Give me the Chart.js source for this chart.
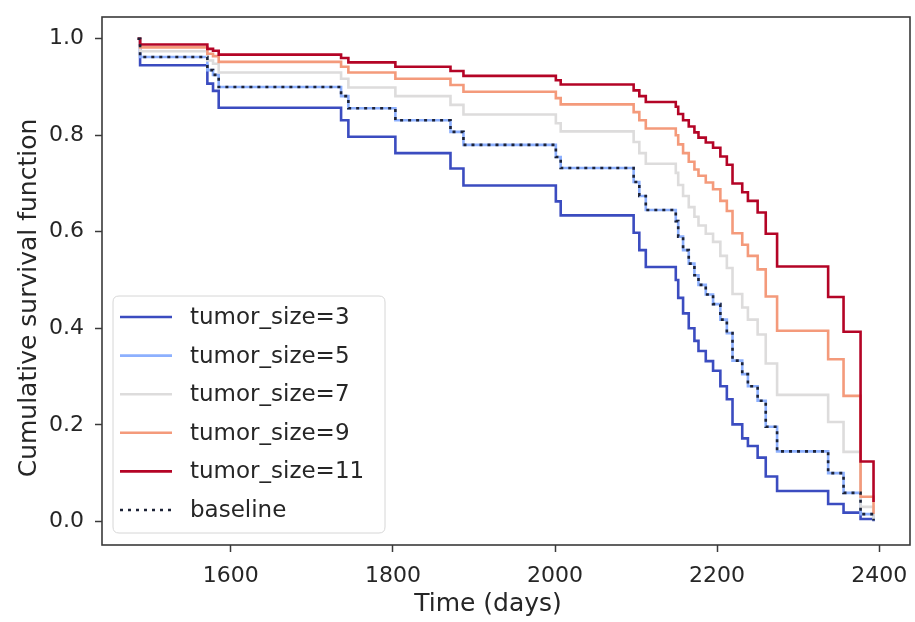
<!DOCTYPE html>
<html><head><meta charset="utf-8">
<script src="https://cdn.jsdelivr.net/npm/chart.js@4.4.1/dist/chart.umd.min.js"></script>
<style>html,body{margin:0;padding:0;background:#fff;} canvas{display:block;}</style>
</head><body>
<canvas id="c" width="915" height="622"></canvas>
<script>
// ---- data ----
const days = [1485, 1488, 1571, 1578, 1585, 1736, 1745, 1803, 1871, 1887, 2001, 2007, 2097, 2104, 2112,
  2149, 2152, 2158, 2165, 2172, 2177, 2186, 2195, 2204, 2212, 2219, 2231, 2238, 2250, 2260, 2274,
  2337, 2356, 2377, 2393];
const survSize3 = [1.0, 0.945, 0.907, 0.892, 0.857, 0.831, 0.797, 0.763, 0.731, 0.696, 0.663, 0.634, 0.598, 0.562, 0.527,
  0.500, 0.463, 0.431, 0.400, 0.374, 0.353, 0.332, 0.312, 0.280, 0.253, 0.201, 0.172, 0.156, 0.132, 0.093, 0.063,
  0.036, 0.018, 0.005, 0.0];
const survSize5 = [1.0, 0.962, 0.935, 0.925, 0.900, 0.881, 0.856, 0.831, 0.807, 0.780, 0.755, 0.732, 0.703, 0.674, 0.645,
  0.622, 0.590, 0.562, 0.534, 0.510, 0.490, 0.470, 0.450, 0.418, 0.390, 0.333, 0.305, 0.280, 0.250, 0.196, 0.145,
  0.100, 0.059, 0.015, 0.002];
const survSize7 = [1.0, 0.974, 0.955, 0.948, 0.930, 0.917, 0.899, 0.881, 0.863, 0.843, 0.825, 0.808, 0.786, 0.763, 0.741,
  0.722, 0.697, 0.674, 0.651, 0.631, 0.613, 0.596, 0.579, 0.550, 0.525, 0.471, 0.443, 0.418, 0.387, 0.327, 0.262,
  0.206, 0.144, 0.030, 0.004];
const survSize9 = [1.0, 0.982, 0.969, 0.964, 0.952, 0.942, 0.930, 0.917, 0.904, 0.890, 0.877, 0.864, 0.848, 0.831, 0.814,
  0.800, 0.781, 0.763, 0.745, 0.729, 0.716, 0.702, 0.688, 0.664, 0.643, 0.597, 0.573, 0.550, 0.522, 0.466, 0.395,
  0.336, 0.260, 0.051, 0.015];
const survSize11 = [1.0, 0.988, 0.979, 0.975, 0.967, 0.960, 0.951, 0.942, 0.933, 0.923, 0.914, 0.905, 0.893, 0.881, 0.869,
  0.859, 0.844, 0.831, 0.818, 0.806, 0.795, 0.785, 0.774, 0.756, 0.739, 0.700, 0.682, 0.664, 0.640, 0.596, 0.528,
  0.465, 0.393, 0.124, 0.040];
const survBaseline = [1.0, 0.962, 0.935, 0.925, 0.900, 0.881, 0.856, 0.831, 0.807, 0.780, 0.755, 0.732, 0.703, 0.674, 0.645,
  0.622, 0.590, 0.562, 0.534, 0.510, 0.490, 0.470, 0.450, 0.418, 0.390, 0.333, 0.305, 0.280, 0.250, 0.196, 0.145,
  0.100, 0.059, 0.015, 0.002];
const seriesLabels = ['tumor_size=3', 'tumor_size=5', 'tumor_size=7', 'tumor_size=9', 'tumor_size=11', 'baseline'];
const xTicks = [1600, 1800, 2000, 2200, 2400];
const yTicks = [0.0, 0.2, 0.4, 0.6, 0.8, 1.0];
const xTitle = 'Time (days)';
const yTitle = 'Cumulative survival function';

// ---- chart ----
Chart.defaults.font.family = "'DejaVu Sans', sans-serif";
Chart.defaults.color = '#262626';
const pts = vals => days.map((d, i) => ({x: d, y: vals[i]}));

const series = [
  {vals: survSize3, color: '#3b4cc0', order: 5},
  {vals: survSize5, color: '#8db0fe', order: 4},
  {vals: survSize7, color: '#dddcdc', order: 3},
  {vals: survSize9, color: '#f49a7b', order: 2},
  {vals: survSize11, color: '#b40426', order: 1},
  {vals: survBaseline, color: '#1c2236', order: 0, dash: [3, 5]}
];

const framePlugin = {
  id: 'frame',
  afterDatasetsDraw(chart) {
    const {ctx, chartArea: a} = chart;
    ctx.save();
    ctx.strokeStyle = '#3a3a3a';
    ctx.lineWidth = 1.6;
    ctx.strokeRect(a.left, a.top, a.right - a.left, a.bottom - a.top);
    ctx.restore();
  }
};

const titlePlugin = {
  id: 'axisTitles',
  afterDraw(chart) {
    const ctx = chart.ctx;
    ctx.save();
    ctx.fillStyle = '#262626';
    ctx.font = "25px 'DejaVu Sans', sans-serif";
    ctx.textAlign = 'center';
    ctx.textBaseline = 'middle';
    ctx.fillText(xTitle, 488, 604);
    ctx.translate(29, 298);
    ctx.rotate(-Math.PI / 2);
    ctx.fillText(yTitle, 0, 0);
    ctx.restore();
  }
};

const legendPlugin = {
  id: 'innerLegend',
  afterDraw(chart) {
    const {ctx, chartArea: a} = chart;
    const x = a.left + 11, w = 272, h = 237, y = a.bottom - 12 - h, r = 6;
    ctx.save();
    ctx.beginPath();
    ctx.moveTo(x + r, y);
    ctx.lineTo(x + w - r, y); ctx.quadraticCurveTo(x + w, y, x + w, y + r);
    ctx.lineTo(x + w, y + h - r); ctx.quadraticCurveTo(x + w, y + h, x + w - r, y + h);
    ctx.lineTo(x + r, y + h); ctx.quadraticCurveTo(x, y + h, x, y + h - r);
    ctx.lineTo(x, y + r); ctx.quadraticCurveTo(x, y, x + r, y);
    ctx.closePath();
    ctx.fillStyle = 'rgba(255,255,255,0.85)';
    ctx.fill();
    ctx.strokeStyle = '#d6d6d6';
    ctx.lineWidth = 1;
    ctx.stroke();
    ctx.font = "23px 'DejaVu Sans', sans-serif";
    ctx.textBaseline = 'middle';
    ctx.textAlign = 'left';
    chart.data.datasets.forEach((ds, i) => {
      const ry = y + 21 + i * 38.6;
      ctx.beginPath();
      ctx.setLineDash(ds.borderDash || []);
      ctx.strokeStyle = ds.borderColor;
      ctx.lineWidth = ds.borderWidth;
      ctx.moveTo(x + 7, ry);
      ctx.lineTo(x + 59, ry);
      ctx.stroke();
      ctx.setLineDash([]);
      ctx.fillStyle = '#262626';
      ctx.fillText(ds.label, x + 77, ry + 1);
    });
    ctx.restore();
  }
};

new Chart(document.getElementById('c'), {
  type: 'line',
  data: {
    datasets: series.map((s, i) => ({
      label: seriesLabels[i],
      data: pts(s.vals),
      borderColor: s.color,
      backgroundColor: s.color,
      borderWidth: 2.6,
      borderDash: s.dash || [],
      borderCapStyle: 'butt',
      stepped: 'before',
      pointRadius: 0,
      fill: false,
      order: s.order
    }))
  },
  options: {
    responsive: false,
    animation: false,
    devicePixelRatio: 1,
    layout: {padding: {top: 17, right: 5, left: 0, bottom: 0}},
    plugins: {legend: {display: false}, tooltip: {enabled: false}},
    scales: {
      x: {
        type: 'linear', min: 1441, max: 2438,
        afterBuildTicks: s => { s.ticks = xTicks.map(v => ({value: v})); },
        afterFit: s => { s.height = 77; s.paddingLeft = 0; s.paddingRight = 0; },
        ticks: {font: {size: 22}, padding: 11, maxRotation: 0, autoSkip: false, callback: v => String(v)},
        grid: {drawOnChartArea: false, drawTicks: true, tickLength: 7, tickColor: '#3a3a3a', tickWidth: 1.5},
        border: {display: false},
        title: {display: false}
      },
      y: {
        type: 'linear', min: -0.049, max: 1.045,
        afterBuildTicks: s => { s.ticks = yTicks.map(v => ({value: v})); },
        afterFit: s => { s.width = 102; s.paddingTop = 0; s.paddingBottom = 0; },
        ticks: {font: {size: 22}, padding: 11, autoSkip: false, callback: v => Number(v).toFixed(1)},
        grid: {drawOnChartArea: false, drawTicks: true, tickLength: 7, tickColor: '#3a3a3a', tickWidth: 1.5},
        border: {display: false},
        title: {display: false}
      }
    }
  },
  plugins: [framePlugin, titlePlugin, legendPlugin]
});
</script>
</body></html>
